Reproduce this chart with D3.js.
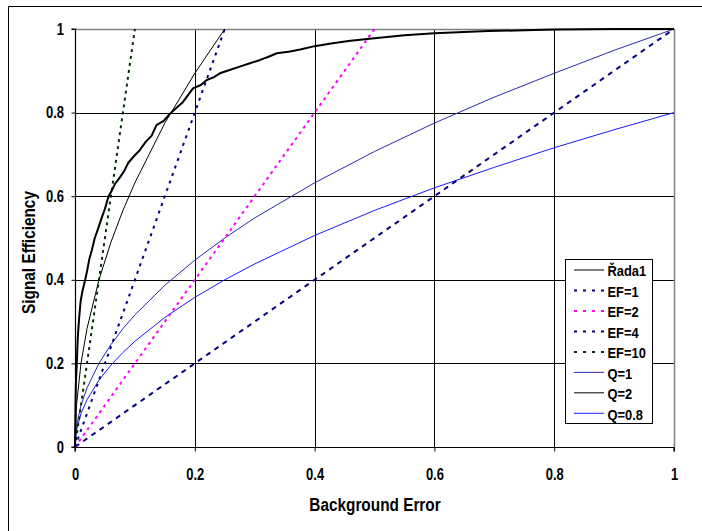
<!DOCTYPE html>
<html><head><meta charset="utf-8">
<script src="https://cdn.jsdelivr.net/npm/d3@7"></script>
<style>
html,body{margin:0;padding:0;background:#fff;}
svg{display:block;font-family:"Liberation Sans",Arial,sans-serif;}
</style></head>
<body>
<svg id="c" width="702" height="531"></svg>
<script>
// ---- data ----
const xTicks = [0, 0.2, 0.4, 0.6, 0.8, 1];
const yTicks = [0, 0.2, 0.4, 0.6, 0.8, 1];
const xTickLabels = ["0", "0.2", "0.4", "0.6", "0.8", "1"];
const yTickLabels = ["0", "0.2", "0.4", "0.6", "0.8", "1"];

// Řada1 (ROC curve)
const rocB = [0, 0.0005, 0.001, 0.0015, 0.002, 0.003, 0.004, 0.005, 0.007, 0.0095, 0.012, 0.017, 0.02, 0.024, 0.028, 0.033, 0.038, 0.045, 0.05, 0.056, 0.062, 0.067, 0.075, 0.082, 0.089, 0.098, 0.108, 0.118, 0.128, 0.136, 0.148, 0.159, 0.17, 0.18, 0.197, 0.21, 0.22, 0.232, 0.242, 0.258, 0.275, 0.292, 0.309, 0.322, 0.337, 0.359, 0.376, 0.4, 0.43, 0.46, 0.5, 0.55, 0.6, 0.65, 0.69, 0.75, 0.8, 0.9, 1];
const rocS = [0, 0.06, 0.11, 0.15, 0.17, 0.2, 0.24, 0.27, 0.31, 0.35, 0.37, 0.4, 0.42, 0.45, 0.47, 0.5, 0.52, 0.55, 0.57, 0.6, 0.615, 0.63, 0.645, 0.66, 0.68, 0.695, 0.71, 0.73, 0.745, 0.77, 0.78, 0.798, 0.812, 0.825, 0.858, 0.866, 0.878, 0.885, 0.894, 0.902, 0.91, 0.918, 0.926, 0.933, 0.942, 0.946, 0.951, 0.959, 0.966, 0.972, 0.978, 0.985, 0.99, 0.993, 0.995, 0.997, 0.999, 1, 1];

// EF lines (signal = EF * background)
const efNames = ["EF=1", "EF=2", "EF=4", "EF=10"];
const efB = [[0, 1], [0, 0.5], [0, 0.25], [0, 0.1]];
const efS = [[0, 1], [0, 1], [0, 1], [0, 1]];

// Q curves
const qB = [0, 0.0025, 0.01, 0.02, 0.04, 0.06, 0.08, 0.1, 0.15, 0.2, 0.25, 0.3, 0.4, 0.5, 0.6, 0.7, 0.8, 0.9, 1];
const q1S = [0, 0.05, 0.1, 0.141, 0.2, 0.245, 0.283, 0.316, 0.387, 0.447, 0.5, 0.548, 0.632, 0.707, 0.775, 0.837, 0.894, 0.949, 1];
const q2B = [0, 0.0025, 0.01, 0.02, 0.04, 0.06, 0.08, 0.1, 0.15, 0.2, 0.25];
const q2S = [0, 0.1, 0.2, 0.283, 0.4, 0.49, 0.566, 0.632, 0.775, 0.894, 1];
const q08S = [0, 0.04, 0.08, 0.113, 0.16, 0.196, 0.226, 0.253, 0.31, 0.358, 0.4, 0.438, 0.506, 0.566, 0.62, 0.669, 0.716, 0.759, 0.8];

const legendNames = ["Řada1", "EF=1", "EF=2", "EF=4", "EF=10", "Q=1", "Q=2", "Q=0.8"];

// ---- drawing ----
const FONT = "Liberation Sans, Arial, sans-serif";
const svg = d3.select("#c");
const X0 = 75, X1 = 674, Y0 = 447, Y1 = 29;
const x = d3.scaleLinear().domain([0, 1]).range([X0, X1]);
const y = d3.scaleLinear().domain([0, 1]).range([Y0, Y1]);

// outer chart border (only top/left visible)
svg.append("line").attr("x1", 8.5).attr("x2", 702).attr("y1", 6.5).attr("y2", 6.5).attr("stroke", "#000").attr("stroke-width", 1);
svg.append("line").attr("x1", 8.5).attr("x2", 8.5).attr("y1", 6.5).attr("y2", 531).attr("stroke", "#000").attr("stroke-width", 1);

// grid
const grid = svg.append("g");
xTicks.slice(1, -1).forEach(t => {
  grid.append("line").attr("x1", Math.round(x(t)) + 0.5).attr("x2", Math.round(x(t)) + 0.5)
    .attr("y1", Y1).attr("y2", Y0).attr("stroke", "#000").attr("stroke-width", 1);
});
yTicks.slice(1, -1).forEach(t => {
  grid.append("line").attr("x1", X0).attr("x2", X1)
    .attr("y1", Math.round(y(t)) + 0.5).attr("y2", Math.round(y(t)) + 0.5).attr("stroke", "#000").attr("stroke-width", 1);
});
// plot border (top/right gray)
svg.append("line").attr("x1", X0).attr("x2", X1 + 0.5).attr("y1", Y1 + 0.5).attr("y2", Y1 + 0.5).attr("stroke", "#808080").attr("stroke-width", 1.5);
svg.append("line").attr("x1", X1 + 0.5).attr("x2", X1 + 0.5).attr("y1", Y1).attr("y2", Y0).attr("stroke", "#808080").attr("stroke-width", 1.5);

// axes
const TS = 0.81; // horizontal squeeze of the tick label font
const xAxis = d3.axisBottom(x).tickValues(xTicks).tickFormat((d, i) => xTickLabels[i]).tickSize(4).tickPadding(17);
const yAxis = d3.axisLeft(y).tickValues(yTicks).tickFormat((d, i) => yTickLabels[i]).tickSize(4).tickPadding(10.2);
const gx = svg.append("g").attr("transform", `translate(0,${Y0 + 0.5})`).call(xAxis);
const gy = svg.append("g").attr("transform", `translate(${X0 + 0.5},0)`).call(yAxis);
[gx, gy].forEach(g => {
  g.select(".domain").attr("stroke", "#000").attr("stroke-width", 1.2);
  g.selectAll(".tick line").attr("stroke", "#000");
  g.selectAll("text").attr("font-size", 16).attr("font-weight", "bold").attr("fill", "#000")
    .attr("font-family", FONT).attr("transform", `scale(${TS},1)`);
});
gy.select(".domain").attr("d", `M-4,${Y0}H0V${Y1}H-4`);
gx.select(".domain").attr("d", `M${X0},4V0H${X1}V4`);

// axis titles
svg.append("text").attr("transform", "translate(375,511) scale(0.83,1)").attr("text-anchor", "middle")
  .attr("font-size", 18.5).attr("font-weight", "bold").text("Background Error");
svg.append("text").attr("transform", "translate(35,252.5) rotate(-90) scale(0.83,1)").attr("text-anchor", "middle")
  .attr("font-size", 18.5).attr("font-weight", "bold").text("Signal Efficiency");

// series
const line = d3.line().x(d => x(d[0])).y(d => y(d[1]));
const plot = svg.append("g");
const zip = (a, b) => a.map((v, i) => [v, b[i]]);

const styles = {
  "Řada1": {stroke: "#000", width: 2, dash: null},
  "EF=1": {stroke: "#000080", width: 2, dash: "5,5"},
  "EF=2": {stroke: "#ff00ff", width: 2, dash: "3,4"},
  "EF=4": {stroke: "#000080", width: 2, dash: "3,5"},
  "EF=10": {stroke: "#003300", width: 2, dash: "3,4"},
  "Q=1": {stroke: "#2a2ab0", width: 1, dash: null},
  "Q=2": {stroke: "#000", width: 1, dash: null},
  "Q=0.8": {stroke: "#1a1aff", width: 1, dash: null}
};

function draw(name, pts) {
  const s = styles[name];
  plot.append("path").attr("d", line(pts)).attr("fill", "none")
    .attr("stroke", s.stroke).attr("stroke-width", s.width)
    .attr("stroke-dasharray", s.dash).attr("stroke-linejoin", "round");
}
draw("Q=0.8", zip(qB, q08S));
draw("Q=1", zip(qB, q1S));
draw("Q=2", zip(q2B, q2S));
efNames.forEach((n, i) => draw(n, zip(efB[i], efS[i])));
draw("Řada1", zip(rocB, rocS));

// legend
const lg = svg.append("g");
lg.append("rect").attr("x", 565.5).attr("y", 259.5).attr("width", 87).attr("height", 164)
  .attr("fill", "#fff").attr("stroke", "#000").attr("stroke-width", 1);
legendNames.forEach((n, i) => {
  const yy = 270 + i * 20.47;
  const s = styles[n];
  lg.append("line").attr("x1", 574).attr("x2", 604).attr("y1", yy).attr("y2", yy)
    .attr("stroke", s.stroke).attr("stroke-width", s.width === 2 && n !== "Řada1" ? 2 : 1)
    .attr("stroke-dasharray", s.dash ? "3,6" : null);
  lg.append("text").attr("transform", `translate(607.5,${yy + 6.3}) scale(0.86,1)`).attr("font-size", 15)
    .attr("font-weight", "bold").attr("font-family", FONT).text(n);
});
</script>
</body></html>
